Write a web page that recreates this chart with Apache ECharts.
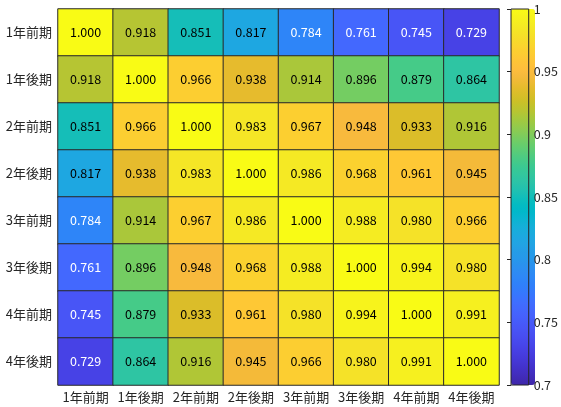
<!DOCTYPE html>
<html>
<head>
<meta charset="utf-8">
<script src="https://cdn.jsdelivr.net/npm/echarts@6/dist/echarts.min.js"></script>
<style>
  html, body { margin: 0; padding: 0; background: #fff; }
  #chart { width: 561px; height: 407px; }
</style>
</head>
<body>
<div id="chart"></div>
<script>
// Period labels (rows top→bottom, columns left→right)
const periods = ['1年前期', '1年後期', '2年前期', '2年後期', '3年前期', '3年後期', '4年前期', '4年後期'];

// Correlation matrix, one array per row
const row1 = [1.000, 0.918, 0.851, 0.817, 0.784, 0.761, 0.745, 0.729];
const row2 = [0.918, 1.000, 0.966, 0.938, 0.914, 0.896, 0.879, 0.864];
const row3 = [0.851, 0.966, 1.000, 0.983, 0.967, 0.948, 0.933, 0.916];
const row4 = [0.817, 0.938, 0.983, 1.000, 0.986, 0.968, 0.961, 0.945];
const row5 = [0.784, 0.914, 0.967, 0.986, 1.000, 0.988, 0.980, 0.966];
const row6 = [0.761, 0.896, 0.948, 0.968, 0.988, 1.000, 0.994, 0.980];
const row7 = [0.745, 0.879, 0.933, 0.961, 0.980, 0.994, 1.000, 0.991];
const row8 = [0.729, 0.864, 0.916, 0.945, 0.966, 0.980, 0.991, 1.000];
const rows = [row1, row2, row3, row4, row5, row6, row7, row8];

// Colour scale limits and colorbar ticks
const scaleMin = 0.7;
const scaleMax = 1.0;
const scaleStep = 0.05;

// Parula colormap (64 entries)
const parula = [
  [0.2422,0.1504,0.6603],[0.2504,0.1650,0.7076],[0.2578,0.1818,0.7511],[0.2647,0.1978,0.7952],
  [0.2706,0.2147,0.8364],[0.2751,0.2342,0.8710],[0.2783,0.2559,0.8991],[0.2803,0.2782,0.9221],
  [0.2813,0.3006,0.9414],[0.2810,0.3228,0.9579],[0.2795,0.3447,0.9717],[0.2760,0.3667,0.9829],
  [0.2699,0.3892,0.9906],[0.2602,0.4123,0.9952],[0.2440,0.4358,0.9988],[0.2206,0.4603,0.9973],
  [0.1963,0.4847,0.9892],[0.1834,0.5074,0.9798],[0.1786,0.5289,0.9682],[0.1764,0.5499,0.9520],
  [0.1687,0.5703,0.9359],[0.1540,0.5902,0.9218],[0.1460,0.6091,0.9079],[0.1380,0.6276,0.8973],
  [0.1248,0.6459,0.8883],[0.1113,0.6635,0.8763],[0.0952,0.6798,0.8598],[0.0689,0.6948,0.8394],
  [0.0297,0.7082,0.8163],[0.0036,0.7203,0.7917],[0.0067,0.7312,0.7660],[0.0433,0.7411,0.7394],
  [0.0964,0.7500,0.7120],[0.1408,0.7584,0.6842],[0.1717,0.7670,0.6554],[0.1938,0.7758,0.6251],
  [0.2161,0.7843,0.5923],[0.2470,0.7918,0.5567],[0.2906,0.7973,0.5188],[0.3406,0.8008,0.4789],
  [0.3909,0.8029,0.4354],[0.4456,0.8024,0.3909],[0.5044,0.7993,0.3480],[0.5616,0.7942,0.3045],
  [0.6174,0.7876,0.2612],[0.6720,0.7793,0.2227],[0.7242,0.7698,0.1910],[0.7738,0.7598,0.1646],
  [0.8203,0.7498,0.1535],[0.8634,0.7406,0.1596],[0.9035,0.7330,0.1774],[0.9393,0.7288,0.2100],
  [0.9728,0.7298,0.2394],[0.9956,0.7434,0.2371],[0.9970,0.7659,0.2199],[0.9952,0.7893,0.2028],
  [0.9892,0.8136,0.1885],[0.9786,0.8386,0.1766],[0.9676,0.8639,0.1643],[0.9610,0.8890,0.1537],
  [0.9597,0.9135,0.1423],[0.9628,0.9373,0.1265],[0.9691,0.9606,0.1064],[0.9769,0.9839,0.0805]
].map(c => 'rgb(' + c.map(v => Math.round(v * 255)).join(',') + ')');

const FONT = '"Noto Sans CJK JP", "Noto Sans", sans-serif';
const TEXT = '#262626';

// Heatmap cells: [column, row, value]; light text on the dark end of the scale
const cells = [];
rows.forEach((r, yi) => {
  r.forEach((v, xi) => {
    cells.push({
      value: [xi, yi, v],
      label: { color: v < 0.8 ? '#ffffff' : '#000000' }
    });
  });
});

const chart = echarts.init(document.getElementById('chart'), null, { renderer: 'canvas' });

chart.setOption({
  animation: false,
  textStyle: { fontFamily: FONT },
  grid: [
    { left: 58, top: 9, width: 441, height: 376, containLabel: false },
    { left: 511, top: 9, width: 24, height: 376, show: true, z: 6,
      borderColor: '#262626', borderWidth: 1, backgroundColor: 'transparent' }
  ],
  xAxis: [
    {
      type: 'category', data: periods, gridIndex: 0,
      axisLine: { show: false }, axisTick: { show: false }, splitLine: { show: false },
      axisLabel: { color: TEXT, fontSize: 13, fontFamily: FONT, margin: 6, interval: 0 }
    },
    { type: 'value', gridIndex: 1, show: false, min: 0, max: 1 }
  ],
  yAxis: [
    {
      type: 'category', data: periods, gridIndex: 0, inverse: true,
      axisLine: { show: false }, axisTick: { show: false }, splitLine: { show: false },
      axisLabel: { color: TEXT, fontSize: 13, fontFamily: FONT, margin: 6, interval: 0 }
    },
    {
      type: 'value', gridIndex: 1, position: 'right', z: 6,
      min: scaleMin, max: scaleMax, interval: scaleStep,
      axisLine: { show: false },
      axisTick: { show: true, inside: true, length: 4, lineStyle: { color: '#262626' } },
      splitLine: { show: false },
      axisLabel: { color: TEXT, fontSize: 12.5, fontFamily: FONT, margin: 5 }
    }
  ],
  visualMap: {
    type: 'continuous',
    min: scaleMin, max: scaleMax,
    seriesIndex: 0,
    calculable: false,
    orient: 'vertical',
    left: 511, top: 9,
    padding: 0,
    itemWidth: 24, itemHeight: 376,
    text: null,
    inRange: { color: parula }
  },
  series: [{
    type: 'heatmap',
    xAxisIndex: 0, yAxisIndex: 0,
    data: cells,
    itemStyle: { borderColor: '#2a2a2a', borderWidth: 1 },
    label: {
      show: true, fontSize: 12.5, fontFamily: FONT,
      formatter: p => p.value[2].toFixed(3)
    },
    emphasis: { disabled: true }
  }]
});
</script>
</body>
</html>
